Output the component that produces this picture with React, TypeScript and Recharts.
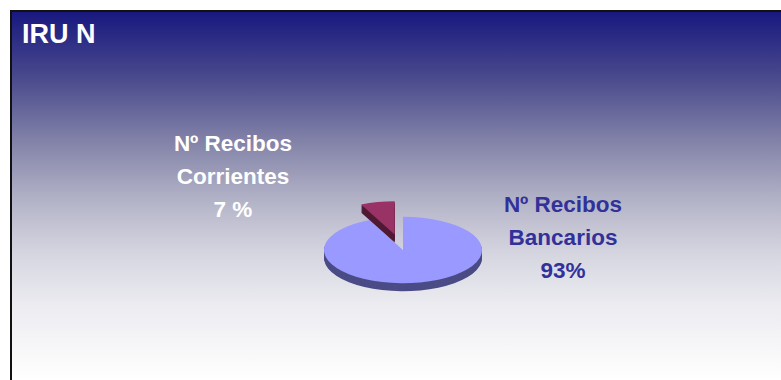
import { PieChart, Pie } from "recharts";

const categories = ["Nº Recibos Bancarios", "Nº Recibos Corrientes"];
const shares = [93, 7];
const labelLines = [
  ["Nº Recibos", "Bancarios", "93%"],
  ["Nº Recibos", "Corrientes", "7 %"],
];

const topColors = ["#9999ff", "#993366"];
const sideColors = ["#4b4b86", "#4f1934"];
const labelColors = ["#313199", "#ffffff"];
const explode = [0, 38];

const TILT = 0.42;
const DEPTH = 8;

const data = categories.map((name, i) => ({ name, value: shares[i] }));

function pt(cx: number, cy: number, r: number, a: number): [number, number] {
  const rad = (a * Math.PI) / 180;
  return [cx + r * Math.cos(rad), cy - r * TILT * Math.sin(rad)];
}

function slicePath(cx: number, cy: number, r: number, s: number, e: number) {
  const [x1, y1] = pt(cx, cy, r, s);
  const [x2, y2] = pt(cx, cy, r, e);
  const large = Math.abs(s - e) > 180 ? 1 : 0;
  const sweep = s > e ? 1 : 0;
  return `M${cx},${cy} L${x1},${y1} A${r},${r * TILT} 0 ${large} ${sweep} ${x2},${y2} Z`;
}

function renderSlice(props: any) {
  const { cx, cy, outerRadius, startAngle, endAngle } = props;
  const name = props.payload?.name ?? props.name;
  const i = Math.max(0, categories.indexOf(name));
  const mid = (startAngle + endAngle) / 2;
  const [ox, oy] = pt(0, 0, explode[i], mid);
  const x0 = cx + ox;
  const y0 = cy + oy;
  const layers = [];
  for (let d = DEPTH; d >= 1; d--) {
    layers.push(
      <path key={d} d={slicePath(x0, y0 + d, outerRadius, startAngle, endAngle)} fill={sideColors[i]} />
    );
  }
  return (
    <g>
      {layers}
      <path d={slicePath(x0, y0, outerRadius, startAngle, endAngle)} fill={topColors[i]} />
    </g>
  );
}

function renderLabel(props: any) {
  const { cx, cy, index } = props;
  const x = index === 0 ? cx + 160 : cx - 170;
  const y = index === 0 ? cy - 38 : cy - 99;
  return (
    <text
      x={x}
      y={y}
      textAnchor="middle"
      fill={labelColors[index]}
      fontFamily="'Liberation Sans', Arial, sans-serif"
      fontWeight="bold"
      fontSize={22.5}
    >
      {labelLines[index].map((line, k) => (
        <tspan key={k} x={x} y={y + k * 33}>
          {line}
        </tspan>
      ))}
    </text>
  );
}

export default function App() {
  return (
    <div
      style={{
        position: "absolute",
        left: 10,
        top: 10,
        width: 769,
        height: 368,
        borderTop: "2px solid #111",
        borderLeft: "2px solid #111",
        background:
          "linear-gradient(to bottom, #181880 0%, #4a4a8d 18%, #8585aa 36%, #b5b5c9 52%, #d6d6e1 66%, #ececf1 80%, #ffffff 100%)",
        overflow: "hidden",
      }}
    >
      <div
        style={{
          position: "absolute",
          left: 10,
          top: 9,
          color: "#ffffff",
          fontFamily: "'Liberation Sans', Arial, sans-serif",
          fontWeight: "bold",
          fontSize: 27,
          lineHeight: "26px",
        }}
      >
        IRU N
      </div>
      <div style={{ position: "absolute", left: 0, top: 0 }}>
        <PieChart width={769} height={368}>
          <Pie
            data={data}
            dataKey="value"
            nameKey="name"
            cx={386}
            cy={233}
            outerRadius={79}
            startAngle={90}
            endAngle={-270}
            stroke="none"
            isAnimationActive={false}
            labelLine={false}
            label={renderLabel}
            shape={renderSlice}
          />
        </PieChart>
      </div>
    </div>
  );
}
